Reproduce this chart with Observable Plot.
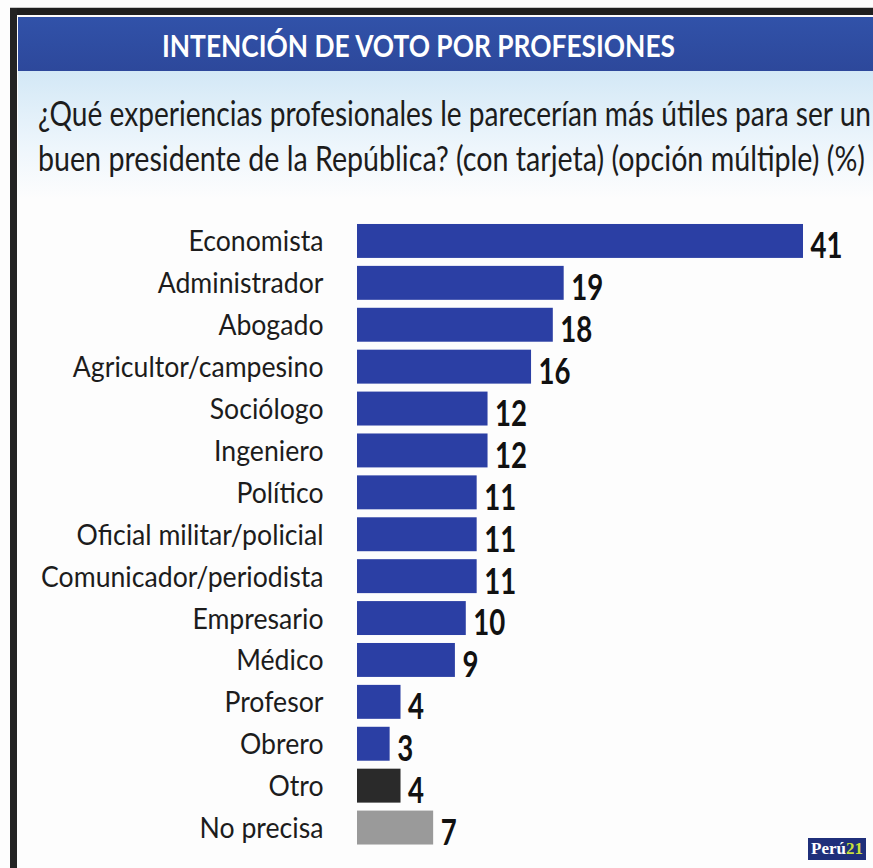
<!DOCTYPE html>
<html>
<head>
<meta charset="utf-8">
<script src="https://cdn.jsdelivr.net/npm/d3@7"></script>
<script src="https://cdn.jsdelivr.net/npm/@observablehq/plot@0.6"></script>
<style>
  html, body { margin: 0; padding: 0; background: #fff; }
  #wrap { position: relative; width: 873px; height: 868px; overflow: hidden; background: #fdfdfd; font-family: Lato, "Open Sans", sans-serif; }
  .abs { position: absolute; }
  .sq { display: inline-block; transform-origin: 0 50%; white-space: nowrap; }
  #topline { left: 10px; top: 7px; width: 863px; height: 1px; background: #c8c8c8; }
  #topband { left: 10px; top: 8px; width: 863px; height: 7px; background: #1f1f1f; }
  #leftband { left: 10px; top: 8px; width: 7px; height: 860px; background: #232323; }
  #header { left: 18px; top: 17px; width: 855px; height: 54px; background: linear-gradient(#3152a9, #2d489b); }
  #subbg { left: 18px; top: 71px; width: 855px; height: 128px; background: linear-gradient(#d3e8f6, #eef6fc 60%, #fdfdfd); }
  #title { left: 162px; top: 28px; color: #fff; font-weight: bold; font-size: 30px; line-height: 34px; }
  #sub1 { left: 38px; top: 93px; color: #1c1c1c; font-size: 34px; line-height: 40px; }
  #sub2 { left: 38px; top: 138px; color: #1c1c1c; font-size: 34px; line-height: 40px; }
  #chart { left: 0; top: 200px; line-height: 0; }
  #chart svg { display: block; }
  #logo { left: 808px; top: 838px; height: 22px; padding: 0 3px; background: #1f2f7a; color: #fff; font-weight: bold; font-size: 17px; line-height: 22px; font-family: "Liberation Serif", serif; }
  #logo span { color: #c8e03a; }
</style>
</head>
<body>
<div id="wrap">
  <div class="abs" id="topline"></div>
  <div class="abs" id="topband"></div>
  <div class="abs" id="leftband"></div>
  <div class="abs" id="header"></div>
  <div class="abs" id="subbg"></div>
  <div class="abs" id="title"><span class="sq" id="titleText">INTENCIÓN DE VOTO POR PROFESIONES</span></div>
  <div class="abs" id="sub1"><span class="sq" id="sub1Text">¿Qué experiencias profesionales le parecerían más útiles para ser un</span></div>
  <div class="abs" id="sub2"><span class="sq" id="sub2Text">buen presidente de la República? (con tarjeta) (opción múltiple) (%)</span></div>
  <div class="abs" id="chart"></div>
  <div class="abs" id="logo">Perú<span>21</span></div>
</div>
<script>
const categories = ["Economista", "Administrador", "Abogado", "Agricultor/campesino", "Sociólogo", "Ingeniero", "Político", "Oficial militar/policial", "Comunicador/periodista", "Empresario", "Médico", "Profesor", "Obrero", "Otro", "No precisa"];
const values = [41, 19, 18, 16, 12, 12, 11, 11, 11, 10, 9, 4, 3, 4, 7];
const groups = ["Profesión", "Profesión", "Profesión", "Profesión", "Profesión", "Profesión", "Profesión", "Profesión", "Profesión", "Profesión", "Profesión", "Profesión", "Profesión", "Otro", "No precisa"];
const groupNames = ["Profesión", "Otro", "No precisa"];
const groupColors = ["#2b3fa4", "#2a2a2a", "#9a9a9a"];

const data = categories.map((c, i) => ({category: c, value: values[i], group: groups[i]}));

const chart = Plot.plot({
  width: 873,
  height: 668,
  marginLeft: 357,
  marginRight: 70,
  marginTop: 20,
  marginBottom: 19.5,
  style: {fontFamily: "Lato, 'Open Sans', sans-serif", background: "transparent", color: "#1c1c1c", overflow: "visible"},
  x: {domain: [0, 41], axis: null},
  y: {domain: categories, paddingInner: 0.19, paddingOuter: 0.095, round: false, label: null},
  color: {domain: groupNames, range: groupColors},
  marks: [
    Plot.barX(data, {x: "value", y: "category", fill: "group"}),
    Plot.axisY({tickSize: 0, tickPadding: 34, fontSize: 28, dy: 1, label: null, fill: "#1c1c1c"}),
    Plot.text(data, {x: "value", y: "category", text: d => String(d.value), textAnchor: "start", dx: 7, dy: 5, fontSize: 37, fontWeight: "bold", fill: "#111"})
  ]
});
document.getElementById("chart").appendChild(chart);

// horizontally condense text to mimic the condensed typeface of the original
function squeezeSvg(el, s) {
  const x = +(el.getAttribute("x") || 0);
  const t = el.getAttribute("transform") || "";
  el.setAttribute("transform", `${t} translate(${x},0) scale(${s},1) translate(${-x},0)`);
}
const axisTexts = Array.from(chart.querySelectorAll('[aria-label="y-axis tick label"] text'));
const valueTexts = Array.from(chart.querySelectorAll('[aria-label="text"] text'));
const eco = axisTexts.find(t => t.textContent === "Economista");
const sAxis = eco ? 135 / eco.getComputedTextLength() : 0.85;
axisTexts.forEach(t => squeezeSvg(t, sAxis));
const v41 = valueTexts.find(t => t.textContent === "41");
const sVal = v41 ? 32 / v41.getComputedTextLength() : 0.75;
valueTexts.forEach(t => squeezeSvg(t, sVal));

function squeezeHtml(id, target) {
  const el = document.getElementById(id);
  const w = el.getBoundingClientRect().width;
  const s = target / w;
  el.style.transform = `scaleX(${s})`;
  return s;
}
squeezeHtml("titleText", 513);
squeezeHtml("sub1Text", 833);
squeezeHtml("sub2Text", 827);
</script>
</body>
</html>
